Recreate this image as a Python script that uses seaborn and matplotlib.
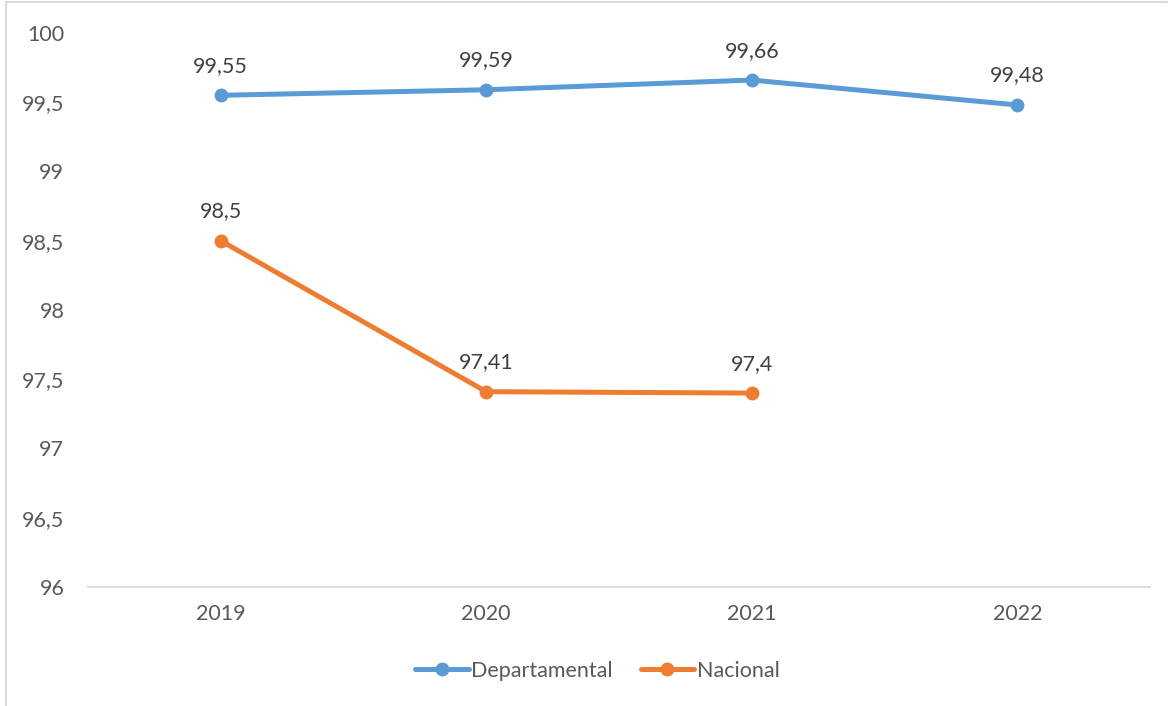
import numpy as np
import pandas as pd
import matplotlib
matplotlib.use("Agg")
import matplotlib.pyplot as plt
import seaborn as sns
from matplotlib.lines import Line2D
from matplotlib.ticker import FuncFormatter

years = ["2019", "2020", "2021", "2022"]
departamental = [99.55, 99.59, 99.66, 99.48]
nacional = [98.5, 97.41, 97.4, np.nan]
series_names = ["Departamental", "Nacional"]
colors = ["#5B9BD5", "#ED7D31"]

sns.set_theme(style="white")
plt.rcParams["font.family"] = ["Lato", "DejaVu Sans"]

df = pd.DataFrame({
    "pos": list(range(len(years))) * 2,
    "valor": departamental + nacional,
    "serie": [series_names[0]] * len(years) + [series_names[1]] * len(years),
})

fig = plt.figure(figsize=(11.71, 7.06), dpi=100)
ax = fig.add_axes([0.0751, 0.1686, 0.907, 0.7847])

sns.lineplot(
    data=df.dropna(), x="pos", y="valor", hue="serie",
    palette=colors, marker="o", markersize=10, markeredgewidth=0,
    linewidth=3.6, ax=ax, legend=False,
)

# data labels
def fmt(v):
    s = f"{v:.2f}".rstrip("0").rstrip(".")
    return s.replace(".", ",")

for vals in [departamental, nacional]:
    for i, v in enumerate(vals):
        if np.isnan(v):
            continue
        ax.annotate(fmt(v), (i, v), xytext=(0, 14), textcoords="offset points",
                    ha="center", va="bottom", fontsize=15.5, color="#404040")

ax.set_xlim(-0.5, 3.5)
ax.set_ylim(96, 100)
ax.set_xticks(range(len(years)))
ax.set_xticklabels(years)
ax.set_yticks(np.arange(96, 100.01, 0.5))
ax.yaxis.set_major_formatter(FuncFormatter(lambda v, p: fmt(v)))
ax.tick_params(axis="both", labelsize=15.5, labelcolor="#595959", length=0)
ax.tick_params(axis="y", pad=17)
ax.tick_params(axis="x", pad=12)
ax.set_xlabel("")
ax.set_ylabel("")
for side in ["top", "right", "left"]:
    ax.spines[side].set_visible(False)
ax.spines["bottom"].set_color("#D9D9D9")
ax.spines["bottom"].set_linewidth(1.3)

handles = [Line2D([0], [0], color=c, lw=3.6, marker="o", markersize=10, markeredgewidth=0)
           for c in colors]
fig.legend(handles, series_names, loc="center", bbox_to_anchor=(0.51, 0.05),
           ncol=2, frameon=False, fontsize=15.5, labelcolor="#595959",
           handlelength=2.5, handletextpad=0.1, columnspacing=1.3)

# chart border (top and left visible)
fig.add_artist(Line2D([0.005, 0.005], [0, 0.997], transform=fig.transFigure,
                      color="#D9D9D9", lw=1.5))
fig.add_artist(Line2D([0.005, 0.997], [0.997, 0.997], transform=fig.transFigure,
                      color="#D9D9D9", lw=1.5))

fig.savefig("out.png", dpi=100)
